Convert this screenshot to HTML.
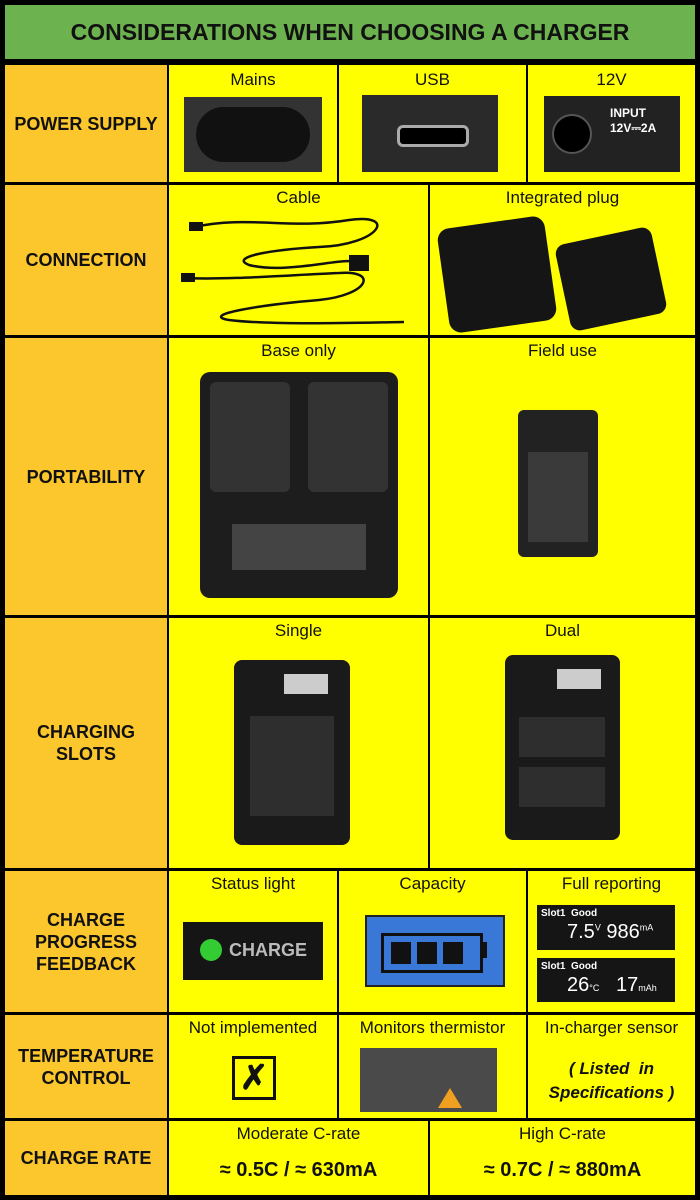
<!DOCTYPE html>
<html><head><meta charset="utf-8"><style>
body{margin:0;background:#000;width:700px;height:1200px;position:relative;overflow:hidden;font-family:"Liberation Sans",Arial,sans-serif}
.c{position:absolute;background:#ffff00;box-sizing:border-box}
.l{position:absolute;background:#fcc72c;display:flex;align-items:center;justify-content:center;text-align:center;font-weight:bold;font-size:18px;color:#111;line-height:22px}
.t{position:absolute;left:0;right:0;text-align:center;font-size:17px;color:#111}
.i{position:absolute;background:#151515}
</style></head><body>
<div style="position:absolute;left:5px;top:5px;width:690px;height:54px;background:#6cb24e;display:flex;align-items:center;justify-content:center;font-weight:bold;font-size:23px;color:#111">CONSIDERATIONS WHEN CHOOSING A CHARGER</div>

<div class="l" style="left:5px;top:65px;width:162px;height:117px">POWER SUPPLY</div>
<div class="l" style="left:5px;top:185px;width:162px;height:150px">CONNECTION</div>
<div class="l" style="left:5px;top:338px;width:162px;height:277px">PORTABILITY</div>
<div class="l" style="left:5px;top:618px;width:162px;height:250px">CHARGING<br>SLOTS</div>
<div class="l" style="left:5px;top:871px;width:162px;height:141px">CHARGE<br>PROGRESS<br>FEEDBACK</div>
<div class="l" style="left:5px;top:1015px;width:162px;height:103px">TEMPERATURE<br>CONTROL</div>
<div class="l" style="left:5px;top:1121px;width:162px;height:74px">CHARGE RATE</div>

<div class="c" style="left:169px;top:65px;width:168px;height:117px"><div class="t" style="top:5px">Mains</div></div>
<div class="c" style="left:339px;top:65px;width:187px;height:117px"><div class="t" style="top:5px">USB</div></div>
<div class="c" style="left:528px;top:65px;width:167px;height:117px"><div class="t" style="top:5px">12V</div></div>
<div class="i" style="left:184px;top:97px;width:138px;height:75px;background:#333"><div style="position:absolute;left:12px;top:10px;width:114px;height:55px;border-radius:28px;background:#111"></div></div>
<div class="i" style="left:362px;top:95px;width:136px;height:77px;background:#2a2a2a"><div style="position:absolute;left:35px;top:30px;width:66px;height:16px;border-radius:6px;border:3px solid #aaa;background:#000"></div></div>
<div class="i" style="left:544px;top:96px;width:136px;height:76px;background:#222;color:#fff;font-weight:bold;font-size:12px"><div style="position:absolute;left:8px;top:18px;width:36px;height:36px;border-radius:50%;background:#000;border:2px solid #555"></div><div style="position:absolute;left:66px;top:10px;line-height:15px">INPUT<br>12V⎓2A</div></div>

<div class="c" style="left:169px;top:185px;width:259px;height:150px"><div class="t" style="top:3px">Cable</div>
<svg width="259" height="150" style="position:absolute;left:0;top:0"><g fill="none" stroke="#111" stroke-width="2.5"><path d="M25 42 C80 30 120 45 180 35 C230 28 210 60 150 62 C100 65 60 72 80 80 C120 90 180 70 190 78"/><path d="M15 93 C60 95 120 90 170 88 C210 85 200 110 150 115 C90 120 30 130 60 135 C100 140 180 138 235 137"/></g><rect x="20" y="37" width="14" height="9" fill="#111"/><rect x="12" y="88" width="14" height="9" fill="#111"/><rect x="180" y="70" width="20" height="16" fill="#111"/></svg></div>
<div class="c" style="left:430px;top:185px;width:265px;height:150px"><div class="t" style="top:3px">Integrated plug</div></div>
<div class="i" style="left:443px;top:222px;width:108px;height:105px;border-radius:12px;transform:rotate(-8deg)"></div>
<div class="i" style="left:562px;top:235px;width:98px;height:88px;border-radius:10px;transform:rotate(-12deg)"></div>

<div class="c" style="left:169px;top:338px;width:259px;height:277px"><div class="t" style="top:3px">Base only</div></div>
<div class="c" style="left:430px;top:338px;width:265px;height:277px"><div class="t" style="top:3px">Field use</div></div>
<div class="i" style="left:200px;top:372px;width:198px;height:226px;border-radius:10px;background:#1d1d1d"><div style="position:absolute;left:10px;top:10px;width:80px;height:110px;background:#333;border-radius:6px"></div><div style="position:absolute;left:108px;top:10px;width:80px;height:110px;background:#333;border-radius:6px"></div><div style="position:absolute;left:32px;top:152px;width:134px;height:46px;background:#444"></div></div>
<div class="i" style="left:518px;top:410px;width:80px;height:147px;border-radius:6px;background:#222"><div style="position:absolute;left:10px;top:42px;width:60px;height:90px;background:#3a3a3a"></div></div>

<div class="c" style="left:169px;top:618px;width:259px;height:250px"><div class="t" style="top:3px">Single</div></div>
<div class="c" style="left:430px;top:618px;width:265px;height:250px"><div class="t" style="top:3px">Dual</div></div>
<div class="i" style="left:234px;top:660px;width:116px;height:185px;border-radius:8px;background:#1a1a1a"><div style="position:absolute;left:50px;top:14px;width:44px;height:20px;background:#ccc"></div><div style="position:absolute;left:16px;top:56px;width:84px;height:100px;background:#2e2e2e"></div></div>
<div class="i" style="left:505px;top:655px;width:115px;height:185px;border-radius:8px;background:#1a1a1a"><div style="position:absolute;left:52px;top:14px;width:44px;height:20px;background:#ccc"></div><div style="position:absolute;left:14px;top:62px;width:86px;height:40px;background:#2e2e2e"></div><div style="position:absolute;left:14px;top:112px;width:86px;height:40px;background:#2e2e2e"></div></div>

<div class="c" style="left:169px;top:871px;width:168px;height:141px"><div class="t" style="top:3px">Status light</div></div>
<div class="c" style="left:339px;top:871px;width:187px;height:141px"><div class="t" style="top:3px">Capacity</div></div>
<div class="c" style="left:528px;top:871px;width:167px;height:141px"><div class="t" style="top:3px">Full reporting</div></div>
<div class="i" style="left:183px;top:922px;width:140px;height:58px;color:#bbb;font-weight:bold;font-size:18px"><div style="position:absolute;left:17px;top:17px;width:22px;height:22px;border-radius:50%;background:#3c3"></div><div style="position:absolute;left:46px;top:18px">CHARGE</div></div>
<div class="i" style="left:365px;top:915px;width:140px;height:72px;background:#3a78d8;border:2px solid #222;box-sizing:border-box"><div style="position:absolute;left:14px;top:16px;width:96px;height:34px;border:3px solid #111"></div><div style="position:absolute;left:114px;top:25px;width:6px;height:16px;background:#111"></div><div style="position:absolute;left:24px;top:25px;width:20px;height:22px;background:#111"></div><div style="position:absolute;left:50px;top:25px;width:20px;height:22px;background:#111"></div><div style="position:absolute;left:76px;top:25px;width:20px;height:22px;background:#111"></div></div>
<div class="i" style="left:537px;top:905px;width:138px;height:45px;color:#fff;font-size:10px;font-weight:bold"><div style="position:absolute;left:4px;top:3px">Slot1&nbsp; Good</div><div style="position:absolute;left:30px;top:16px;font-size:20px;font-weight:normal">7.5<sup style="font-size:9px">V</sup> 986<sup style="font-size:9px">mA</sup></div></div>
<div class="i" style="left:537px;top:958px;width:138px;height:44px;color:#fff;font-size:10px;font-weight:bold"><div style="position:absolute;left:4px;top:3px">Slot1&nbsp; Good</div><div style="position:absolute;left:30px;top:16px;font-size:20px;font-weight:normal">26<span style="font-size:9px">°C</span>&nbsp;&nbsp; 17<span style="font-size:9px">mAh</span></div></div>

<div class="c" style="left:169px;top:1015px;width:168px;height:103px"><div class="t" style="top:3px">Not implemented</div></div>
<div class="c" style="left:339px;top:1015px;width:187px;height:103px"><div class="t" style="top:3px">Monitors thermistor</div></div>
<div class="c" style="left:528px;top:1015px;width:167px;height:103px"><div class="t" style="top:3px">In-charger sensor</div><div class="t" style="top:42px;font-weight:bold;font-style:italic;line-height:24px">( Listed&nbsp; in<br>Specifications )</div></div>
<div style="position:absolute;left:232px;top:1056px;width:38px;height:38px;border:3px solid #111;display:flex;align-items:center;justify-content:center;font-weight:bold;font-size:34px;color:#111">✗</div>
<div class="i" style="left:360px;top:1048px;width:137px;height:64px;background:#4a4a4a"><div style="position:absolute;left:78px;top:40px;width:0;height:0;border-left:12px solid transparent;border-right:12px solid transparent;border-bottom:20px solid #f0a020"></div></div>

<div class="c" style="left:169px;top:1121px;width:259px;height:74px"><div class="t" style="top:3px">Moderate C-rate</div><div class="t" style="top:38px;font-weight:bold;font-size:20px">≈ 0.5C / ≈ 630mA</div></div>
<div class="c" style="left:430px;top:1121px;width:265px;height:74px"><div class="t" style="top:3px">High C-rate</div><div class="t" style="top:38px;font-weight:bold;font-size:20px">≈ 0.7C / ≈ 880mA</div></div>
</body></html>
